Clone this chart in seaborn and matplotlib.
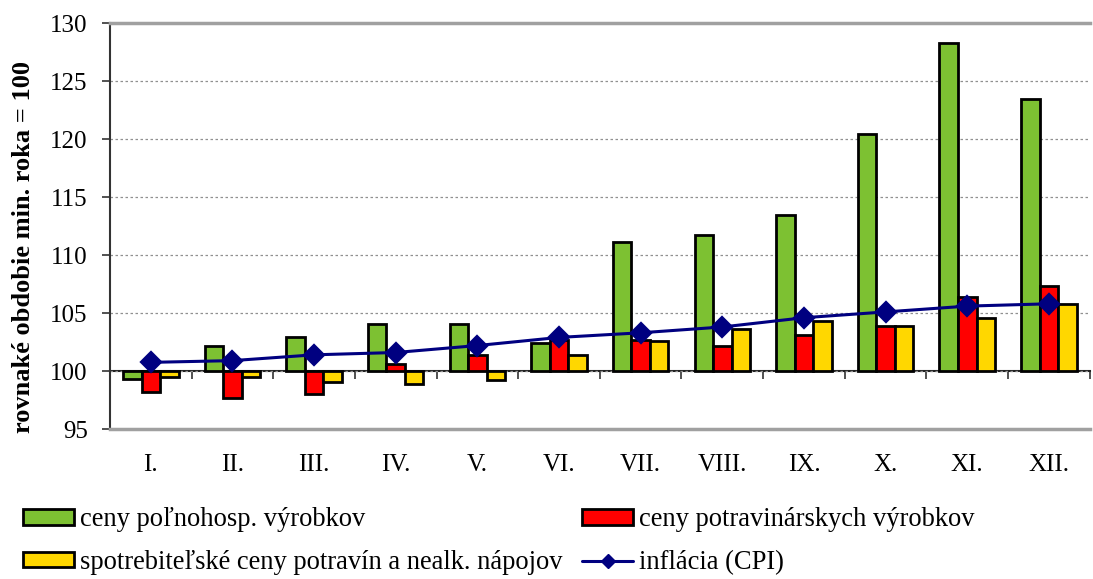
import pandas as pd
import numpy as np
import seaborn as sns
import matplotlib.pyplot as plt
from matplotlib.patches import Patch
from matplotlib.lines import Line2D

sns.set_style("white")
plt.rcParams['font.family'] = ['Liberation Serif', 'DejaVu Serif']
plt.rcParams['text.color'] = 'black'
plt.rcParams['axes.labelcolor'] = 'black'
plt.rcParams['xtick.color'] = 'black'
plt.rcParams['ytick.color'] = 'black'

months = ['I.', 'II.', 'III.', 'IV.', 'V.', 'VI.', 'VII.', 'VIII.', 'IX.', 'X.', 'XI.', 'XII.']
polnohosp = [99.3, 102.2, 102.9, 104.1, 104.1, 102.4, 111.1, 111.7, 113.5, 120.4, 128.3, 123.5]
potravin = [98.2, 97.7, 98.0, 100.6, 101.4, 102.7, 102.7, 102.2, 103.1, 103.9, 106.4, 107.3]
spotreb = [99.5, 99.5, 99.05, 98.9, 99.25, 101.4, 102.6, 103.6, 104.3, 103.9, 104.6, 105.8]
cpi = [100.75, 100.9, 101.4, 101.6, 102.2, 102.9, 103.3, 103.8, 104.6, 105.1, 105.6, 105.8]

series_names = ['ceny poľnohosp. výrobkov', 'ceny potravinárskych výrobkov',
                'spotrebiteľské ceny potravín a nealk. nápojov']
cpi_name = 'inflácia (CPI)'
colors = ['#7DC132', '#FF0000', '#FFD700']
cpi_color = '#000080'

rows = []
for name, vals in zip(series_names, [polnohosp, potravin, spotreb]):
    for m, v in zip(months, vals):
        rows.append({'mesiac': m, 'rad': name, 'odchylka': v - 100})
df = pd.DataFrame(rows)

fig, ax = plt.subplots(figsize=(10.93, 5.79), dpi=100)
fig.subplots_adjust(left=0.1006, right=0.997, top=0.96, bottom=0.259)

# bars grow from 100 (same period of previous year)
sns.barplot(data=df, x='mesiac', y='odchylka', hue='rad', order=months,
            hue_order=series_names, palette=colors, width=0.68,
            errorbar=None, edgecolor='black', linewidth=2, bottom=100,
            saturation=1, legend=False, ax=ax, zorder=3)

sns.pointplot(x=months, y=cpi, order=months, color=cpi_color, markers='D',
              linestyles='-', markersize=10, linewidth=2.2, ax=ax, zorder=5)

ax.set_ylim(95, 130)
ax.set_xlim(-0.5, 11.5)
ax.set_yticks(np.arange(95, 131, 5))
ax.set_ylabel('rovnaké obdobie min. roka = 100', fontsize=19, fontweight='bold')
ax.yaxis.set_label_coords(-0.076, 0.448)
ax.set_xlabel('')

ax.yaxis.grid(True, color='#909090', linestyle=(0, (2, 2)), linewidth=0.9, zorder=0)
ax.tick_params(axis='y', direction='out', length=6, width=1.2, color='#333333',
               labelsize=18, pad=10, left=True)
ax.tick_params(axis='x', length=0, labelsize=18, pad=18)

for s in ['top', 'bottom']:
    ax.spines[s].set_color('#A0A0A0')
    ax.spines[s].set_linewidth(2.5)
ax.spines['right'].set_visible(False)
ax.spines['left'].set_color('#333333')
ax.spines['left'].set_linewidth(1.5)

# category axis crossing at 100
sec = ax.secondary_xaxis((100 - 95) / 35)
sec.set_xticks(np.arange(-0.5, 11.6, 1))
sec.set_xticklabels([])
sec.tick_params(direction='out', length=6, width=1.2, color='#333333')
sec.spines['bottom'].set_color('#222222')
sec.spines['bottom'].set_linewidth(1.5)
for s in ['top', 'left', 'right']:
    sec.spines[s].set_visible(False)

hmap = {n: Patch(facecolor=c, edgecolor='black', linewidth=2) for n, c in zip(series_names, colors)}
hmap[cpi_name] = Line2D([], [], color=cpi_color, marker='D', markersize=7, linewidth=2.2)
order = [series_names[0], series_names[2], series_names[1], cpi_name]
fig.legend([hmap[k] for k in order], order, ncol=2, loc='lower left',
           bbox_to_anchor=(0.009, -0.016), frameon=False, fontsize=19.1,
           borderpad=0, handlelength=1.93, handleheight=0.5, handletextpad=0.23,
           columnspacing=0.72, labelspacing=0.66)

plt.savefig('out.png', dpi=100)
